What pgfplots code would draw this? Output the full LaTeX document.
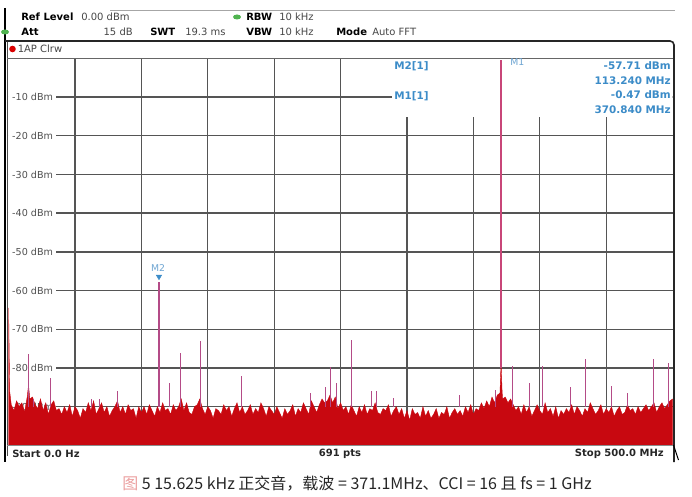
\documentclass[border=0pt]{standalone}
\usepackage{fontspec}
\setmainfont{DejaVu Sans}
\newfontfamily\cjk{Noto Sans CJK SC}
\usepackage{pgfplots}
\pgfplotsset{compat=1.18}
\usepackage{pgfplotstable}

\definecolor{tracered}{RGB}{200,8,16}
\definecolor{spike}{RGB}{180,75,135}
\definecolor{mone}{RGB}{200,70,120}
\definecolor{mblue}{RGB}{60,140,200}
\definecolor{mlight}{RGB}{110,165,210}
\definecolor{gridgray}{RGB}{85,85,85}
\definecolor{labelgray}{RGB}{80,80,80}
\definecolor{valgray}{RGB}{70,70,70}
\definecolor{dotgreen}{RGB}{80,180,80}
\definecolor{fadedpink}{RGB}{235,160,160}

% trace (MHz, dBm); first and last rows close the area at the floor
\pgfplotstableread[row sep=\\]{
x y\\
0 -100\\
0 -64.5\\ 0.8 -86\\ 2 -89.5\\ 4 -91\\ 6 -88.5\\ 8 -90\\ 10 -89\\ 12 -91.5\\ 14 -87.5\\ 15 -84.5\\ 16 -88\\ 18 -87.5\\
20 -89.5\\ 22 -90.5\\ 24 -88\\ 26 -91\\ 28 -89\\ 30 -92\\ 32 -89.5\\ 34 -88.5\\ 36 -91\\ 38 -90.5\\
40 -92\\ 42 -90\\ 44 -91.5\\ 46 -89.5\\ 48 -92.5\\ 50 -90\\ 52 -91\\ 54 -93\\ 56 -90.5\\ 58 -91.5\\
60 -89\\ 62 -91\\ 64 -88.5\\ 66 -92\\ 68 -90.5\\ 70 -89\\ 72 -91.5\\ 74 -90\\ 76 -92.5\\ 78 -91\\
80 -90\\ 82 -88.5\\ 84 -91.5\\ 86 -90\\ 88 -92\\ 90 -89.5\\ 92 -91\\ 94 -90.5\\ 96 -93\\ 98 -90\\
100 -91.5\\ 102 -90\\ 104 -92\\ 106 -89.5\\ 108 -91\\ 110 -92.5\\ 112 -90\\ 114 -91.5\\ 116 -89\\ 118 -91\\
120 -90.5\\ 122 -92\\ 124 -89.5\\ 126 -91\\ 128 -90\\ 130 -88\\ 132 -91\\ 134 -89\\ 136 -91.5\\ 138 -92\\
140 -90\\ 142 -89.5\\ 144 -88\\ 146 -90.5\\ 148 -92\\ 150 -90\\ 152 -91\\ 154 -93\\ 156 -90.5\\ 158 -91\\
160 -92\\ 162 -89.5\\ 164 -91\\ 166 -90\\ 168 -92.5\\ 170 -90.5\\ 172 -89\\ 174 -91.5\\ 176 -90\\ 178 -92\\
180 -91\\ 182 -89.5\\ 184 -92\\ 186 -90.5\\ 188 -91.5\\ 190 -89\\ 192 -90.5\\ 194 -92.5\\ 196 -90\\ 198 -91\\
200 -92\\ 202 -90\\ 204 -91.5\\ 206 -93\\ 208 -90.5\\ 210 -92\\ 212 -91\\ 214 -89.5\\ 216 -92.5\\ 218 -90.5\\
220 -91.5\\ 222 -89\\ 224 -90.5\\ 226 -92\\ 228 -88.5\\ 230 -90\\ 232 -91.5\\ 234 -89.5\\ 236 -88\\ 238 -89\\
240 -88.5\\ 242 -87\\ 244 -89\\ 246 -87.5\\ 248 -90.5\\ 250 -89\\ 252 -91\\ 254 -90\\ 256 -92\\ 258 -89.5\\
260 -91\\ 262 -92.5\\ 264 -90\\ 266 -91.5\\ 268 -89.5\\ 270 -92\\ 272 -90.5\\ 274 -91\\ 276 -89\\ 278 -91.5\\
280 -92\\ 282 -90.5\\ 284 -91\\ 286 -89.5\\ 288 -92.5\\ 290 -91\\ 292 -90\\ 294 -92\\ 296 -90.5\\ 298 -93\\
300 -91\\ 302 -93.5\\ 304 -90.5\\ 306 -92\\ 308 -91.5\\ 310 -93\\ 312 -90\\ 314 -92.5\\ 316 -91\\ 318 -93\\
320 -92\\ 322 -90.5\\ 324 -93\\ 326 -91.5\\ 328 -92\\ 330 -90\\ 332 -93\\ 334 -91.5\\ 336 -90.5\\ 338 -92\\
340 -91\\ 342 -92.5\\ 344 -90\\ 346 -91.5\\ 348 -89.5\\ 350 -92\\ 352 -90.5\\ 354 -91\\ 356 -89\\ 358 -90.5\\
360 -88.5\\ 362 -90\\ 364 -87.5\\ 366 -89\\ 368 -87\\ 370 -86.5\\ 370.84 -78.5\\ 371.6 -86\\ 372 -88\\ 374 -87.5\\ 376 -89\\ 378 -88\\
380 -89.5\\ 382 -91\\ 384 -90\\ 386 -92\\ 388 -89.5\\ 390 -91.5\\ 392 -90\\ 394 -92.5\\ 396 -91\\ 398 -89.5\\
400 -91\\ 402 -92\\ 404 -89\\ 406 -91.5\\ 408 -90.5\\ 410 -92.5\\ 412 -90\\ 414 -93\\ 416 -91\\ 418 -92\\
420 -90.5\\ 422 -91.5\\ 424 -89.5\\ 426 -92\\ 428 -90\\ 430 -91\\ 432 -92.5\\ 434 -90.5\\ 436 -91.5\\ 438 -89\\
440 -90.5\\ 442 -92\\ 444 -91\\ 446 -89.5\\ 448 -92\\ 450 -90.5\\ 452 -91.5\\ 454 -90\\ 456 -92.5\\ 458 -91\\
460 -90\\ 462 -92\\ 464 -91.5\\ 466 -89.5\\ 468 -91\\ 470 -90.5\\ 472 -92\\ 474 -90\\ 476 -91.5\\ 478 -90.5\\
480 -89.5\\ 482 -91\\ 484 -90\\ 486 -89\\ 488 -91.5\\ 490 -90\\ 492 -89\\ 494 -90.5\\ 496 -89.5\\ 498 -88.5\\ 500 -88\\
500 -100\\
}\noise

% spurs: base, top, break
\pgfplotstableread[row sep=\\]{
x y\\
14.8 -90\\ 14.8 -76.5\\ 14.8 nan\\
18.6 -90\\ 18.6 -88\\ 18.6 nan\\
31.6 -90\\ 31.6 -82.5\\ 31.6 nan\\
62.3 -90\\ 62.3 -88\\ 62.3 nan\\
68.5 -90\\ 68.5 -88\\ 68.5 nan\\
81.9 -90\\ 81.9 -86\\ 81.9 nan\\
113.24 -90\\ 113.24 -57.71\\ 113.24 nan\\
121.2 -90\\ 121.2 -83.8\\ 121.2 nan\\
129.5 -90\\ 129.5 -76\\ 129.5 nan\\
144.6 -90\\ 144.6 -73\\ 144.6 nan\\
175.5 -90\\ 175.5 -82\\ 175.5 nan\\
227.4 -90\\ 227.4 -86.5\\ 227.4 nan\\
238.7 -90\\ 238.7 -84.8\\ 238.7 nan\\
242.5 -90\\ 242.5 -79.8\\ 242.5 nan\\
247 -90\\ 247 -83.8\\ 247 nan\\
258.3 -90\\ 258.3 -72.8\\ 258.3 nan\\
273.3 -90\\ 273.3 -86\\ 273.3 nan\\
277.1 -90\\ 277.1 -86\\ 277.1 nan\\
290 -90\\ 290 -87.8\\ 290 nan\\
339.6 -90\\ 339.6 -87\\ 339.6 nan\\
366.7 -90\\ 366.7 -85.7\\ 366.7 nan\\
379.5 -90\\ 379.5 -79.6\\ 379.5 nan\\
392.3 -90\\ 392.3 -84\\ 392.3 nan\\
402.1 -90\\ 402.1 -79.5\\ 402.1 nan\\
423.2 -90\\ 423.2 -85\\ 423.2 nan\\
434.5 -90\\ 434.5 -77.7\\ 434.5 nan\\
454.1 -90\\ 454.1 -84.7\\ 454.1 nan\\
466.2 -90\\ 466.2 -86.5\\ 466.2 nan\\
485.7 -90\\ 485.7 -77.7\\ 485.7 nan\\
497 -90\\ 497 -78.7\\ 497 nan\\
}\spurs

\begin{document}
\begin{tikzpicture}[x=0.75pt,y=0.75pt,
  lbl/.style={inner sep=0pt, anchor=west},
  hfont/.style={font=\fontsize{7.5}{9}\selectfont},
  hbold/.style={font=\fontsize{7.5}{9}\selectfont\bfseries},
  mtext/.style={font=\fontsize{7.8}{9}\selectfont\bfseries, text=mblue, inner sep=0pt}]
\useasboundingbox (0,0) rectangle (692,496);

\begin{axis}[
  at={(6.45pt,37.95pt)}, anchor=south west,
  scale only axis, width=498pt, height=290.3pt,
  xmin=0, xmax=500, ymin=-100, ymax=0,
  axis line style={draw=none},
  xtick={50,100,...,450}, ytick={-90,-80,...,-10},
  xticklabels={}, yticklabels={},
  major tick length=0pt,
  grid=major, grid style={draw=gridgray, line width=1pt},
  unbounded coords=jump,
]
% level labels sit on the grid
\node[lbl, fill=white, inner xsep=2.5pt, inner ysep=0.4pt, font=\fontsize{7.2}{8}\selectfont, text=labelgray] at (axis cs:0,-10) {-10 dBm};
\node[lbl, fill=white, inner xsep=2.5pt, inner ysep=0.4pt, font=\fontsize{7.2}{8}\selectfont, text=labelgray] at (axis cs:0,-20) {-20 dBm};
\node[lbl, fill=white, inner xsep=2.5pt, inner ysep=0.4pt, font=\fontsize{7.2}{8}\selectfont, text=labelgray] at (axis cs:0,-30) {-30 dBm};
\node[lbl, fill=white, inner xsep=2.5pt, inner ysep=0.4pt, font=\fontsize{7.2}{8}\selectfont, text=labelgray] at (axis cs:0,-40) {-40 dBm};
\node[lbl, fill=white, inner xsep=2.5pt, inner ysep=0.4pt, font=\fontsize{7.2}{8}\selectfont, text=labelgray] at (axis cs:0,-50) {-50 dBm};
\node[lbl, fill=white, inner xsep=2.5pt, inner ysep=0.4pt, font=\fontsize{7.2}{8}\selectfont, text=labelgray] at (axis cs:0,-60) {-60 dBm};
\node[lbl, fill=white, inner xsep=2.5pt, inner ysep=0.4pt, font=\fontsize{7.2}{8}\selectfont, text=labelgray] at (axis cs:0,-70) {-70 dBm};
\node[lbl, fill=white, inner xsep=2.5pt, inner ysep=0.4pt, font=\fontsize{7.2}{8}\selectfont, text=labelgray] at (axis cs:0,-80) {-80 dBm};
\node[lbl, fill=white, inner xsep=2.5pt, inner ysep=0.4pt, font=\fontsize{7.2}{8}\selectfont, text=labelgray] at (axis cs:0,-90) {-90 dBm};
% marker table background
\fill[white] (axis cs:288.7,0) rectangle (axis cs:500,-15.16);

\addplot[draw=tracered, fill=tracered, line width=0.3pt] table {\noise};
\addplot[draw=spike, line width=1.1pt] table {\spurs};
\addplot[draw=mone, line width=1.2pt] coordinates {(370.84,-80) (370.84,-0.47)};
\addplot[only marks, mark=triangle*, mark size=2.3pt,
  mark options={rotate=180, fill=mblue, draw=mblue}] coordinates {(113.24,-56.4)};
\end{axis}

% frame
\draw[black!35, line width=0.6pt] (110,486) -- (675,486);
\draw[black, line width=1.5pt] (4.5,488) -- (4.5,34);
\draw[black!70, line width=0.6pt] (7.5,455) -- (7.5,40);
\draw[black!85, line width=1.2pt, rounded corners=3] (5,455) -- (674,455) -- (674,34);
\draw[black!60, line width=0.6pt] (7,437.8) -- (673,437.8);
\draw[black!45, line width=0.6pt] (7,50.4) -- (673,50.4);
\draw[black, line width=0.8pt] (673.5,51) -- (678.5,36);

% header
\node[lbl, hbold] at (21,479) {Ref Level};
\node[lbl, hfont, text=valgray] at (81,479) {0.00 dBm};
\fill[dotgreen] (237,479) ellipse (4 and 2.5);
\node[lbl, hbold] at (246,479) {RBW};
\node[lbl, hfont, text=valgray] at (279,479) {10 kHz};
\fill[dotgreen] (5,464) ellipse (4 and 2.5);
\node[lbl, hbold] at (21,464) {Att};
\node[inner sep=0pt, anchor=east, hfont, text=valgray] at (133,464) {15 dB};
\node[lbl, hbold] at (150,464) {SWT};
\node[lbl, hfont, text=valgray] at (185,464) {19.3 ms};
\node[lbl, hbold] at (246,464) {VBW};
\node[lbl, hfont, text=valgray] at (279,464) {10 kHz};
\node[lbl, hbold] at (336,464) {Mode};
\node[lbl, hfont, text=valgray] at (372,464) {Auto FFT};
\fill[red!85!black] (12.5,447) circle (3.3);
\node[lbl, hfont, text=valgray] at (17.5,447) {1AP Clrw};

% marker readout
\node[mtext, anchor=west] at (394,429.3) {M2[1]};
\node[mtext, anchor=west] at (394,400) {M1[1]};
\node[mtext, anchor=east] at (671,430) {-57.71 dBm};
\node[mtext, anchor=east] at (671,415.3) {113.240 MHz};
\node[mtext, anchor=east] at (671,401) {-0.47 dBm};
\node[mtext, anchor=east] at (671,386.7) {370.840 MHz};
\node[lbl, font=\fontsize{7}{8}\selectfont, text=mlight] at (510,433.5) {M1};
\node[inner sep=0pt, font=\fontsize{7}{8}\selectfont, text=mlight] at (158,228) {M2};

% footer
\node[lbl, hbold, text=black!85] at (12,42) {Start 0.0 Hz};
\node[inner sep=0pt, hbold, text=black!85] at (340,42) {691 pts};
\node[inner sep=0pt, anchor=east, hbold, text=black!85] at (664,42) {Stop 500.0 MHz};

% caption
\node[inner sep=0pt, font=\cjk\fontsize{12}{14}\selectfont, text=black!85] at (357,12)
  {{\color{fadedpink}图} 5 15.625 kHz 正交音，载波 = 371.1MHz、CCI = 16 且 fs = 1 GHz};
\end{tikzpicture}
\end{document}
